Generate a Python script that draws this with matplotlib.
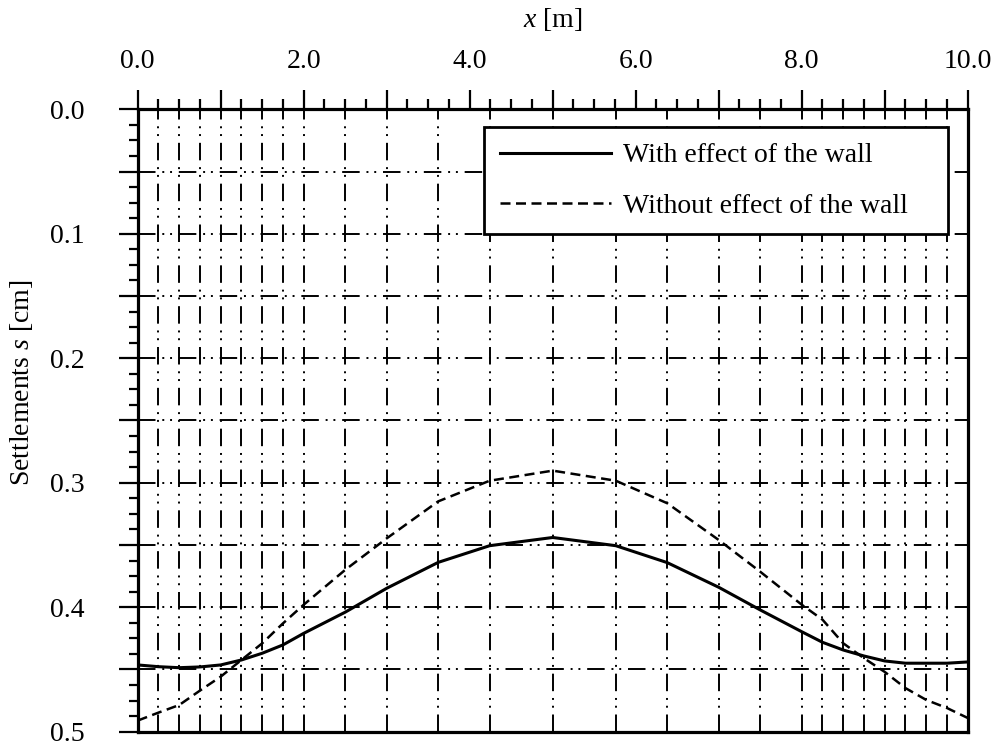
import matplotlib
matplotlib.use("Agg")
import matplotlib.pyplot as plt
from matplotlib.ticker import MultipleLocator, FuncFormatter

# Data
# x positions of the mesh nodes [m]
x_nodes = [0.0, 0.25, 0.5, 0.75, 1.0, 1.25, 1.5, 1.75, 2.0, 2.5, 3.0, 3.62, 4.24,
           5.0, 5.76, 6.38, 7.0, 7.5, 8.0, 8.25, 8.5, 8.75, 9.0, 9.25, 9.5, 9.75, 10.0]

# settlements s [cm]
s_with_wall = [0.4464, 0.4478, 0.4486, 0.448, 0.4464, 0.4424, 0.437, 0.4303, 0.421,
               0.404, 0.3848, 0.364, 0.3506, 0.344, 0.3506, 0.3642, 0.384, 0.4022,
               0.4197, 0.4282, 0.4344, 0.4392, 0.4432, 0.445, 0.445, 0.445, 0.444]
s_without_wall = [0.4911, 0.4847, 0.4786, 0.467, 0.4558, 0.4424, 0.429, 0.413, 0.398,
                  0.370, 0.3447, 0.315, 0.2984, 0.2903, 0.2984, 0.3165, 0.346, 0.3715,
                  0.398, 0.410, 0.429, 0.441, 0.452, 0.465, 0.4745, 0.481, 0.489]

series_labels = ["With effect of the wall", "Without effect of the wall"]

plt.rcParams['font.family'] = 'Liberation Serif'
plt.rcParams['mathtext.fontset'] = 'custom'
plt.rcParams['mathtext.rm'] = 'Liberation Serif'
plt.rcParams['mathtext.it'] = 'Liberation Serif:italic'
plt.rcParams['font.size'] = 20


def main():
    fig = plt.figure(figsize=(9.95, 7.45), dpi=100)
    ax = fig.add_axes([0.1384, 0.0179, 0.9726 - 0.1384, 0.8533 - 0.0179])

    # dash-dot-dot grid
    grid_ls = (0, (9, 3.5, 1, 3, 1, 3.5))
    for xn in x_nodes[1:-1]:
        ax.axvline(xn, color='black', lw=1.4, linestyle=grid_ls, zorder=1.5)
    ax.grid(axis='y', which='major', color='black', lw=1.4, linestyle=grid_ls)

    ax.plot(x_nodes, s_with_wall, color='black', lw=2.2, label=series_labels[0], zorder=3)
    ax.plot(x_nodes, s_without_wall, color='black', lw=1.8, linestyle=(0, (4, 2.2)),
            label=series_labels[1], zorder=3)

    ax.set_xlim(0, 10)
    ax.set_ylim(0.5, 0.0)

    # x axis on top
    ax.xaxis.tick_top()
    ax.xaxis.set_label_position('top')
    ax.xaxis.set_major_locator(MultipleLocator(1.0))
    ax.xaxis.set_minor_locator(MultipleLocator(0.25))
    ax.xaxis.set_major_formatter(FuncFormatter(
        lambda v, p: f"{v:.1f}" if round(v) % 2 == 0 else ""))
    ax.yaxis.set_major_locator(MultipleLocator(0.05))
    ax.yaxis.set_minor_locator(MultipleLocator(0.0125))
    ax.yaxis.set_major_formatter(FuncFormatter(
        lambda v, p: f"{v:.1f}" if round(v * 20) % 2 == 0 else ""))

    ax.tick_params(axis='x', which='major', direction='out', length=14, width=1.6,
                   pad=11.5, top=True, bottom=False)
    ax.tick_params(axis='x', which='minor', direction='out', length=7, width=1.6,
                   top=True, bottom=False)
    ax.tick_params(axis='y', which='major', direction='out', length=14, width=1.6,
                   pad=24, left=True, right=False)
    ax.tick_params(axis='y', which='minor', direction='out', length=6.5, width=1.6,
                   left=True, right=False)

    for sp in ax.spines.values():
        sp.set_linewidth(2.3)

    ax.set_xlabel('$x$ [m]')
    ax.xaxis.label.set_va('center')
    ax.xaxis.set_label_coords(0.5, 1.1435)
    ax.set_ylabel('Settlements $s$ [cm]')
    ax.yaxis.label.set_va('center')
    ax.yaxis.set_label_coords(-0.1406, 0.561)

    leg = ax.legend(loc='upper left', bbox_to_anchor=(0.4176, 0.7996, 0.5585, 0.1714),
                    mode='expand', borderaxespad=0, fancybox=False, framealpha=1,
                    edgecolor='black', handlelength=4.0, handletextpad=0.43,
                    borderpad=0.56, labelspacing=0.89)
    leg.get_frame().set_linewidth(2.0)
    leg.set_zorder(5)

    fig.savefig('out.png', dpi=100)


if __name__ == '__main__':
    main()
